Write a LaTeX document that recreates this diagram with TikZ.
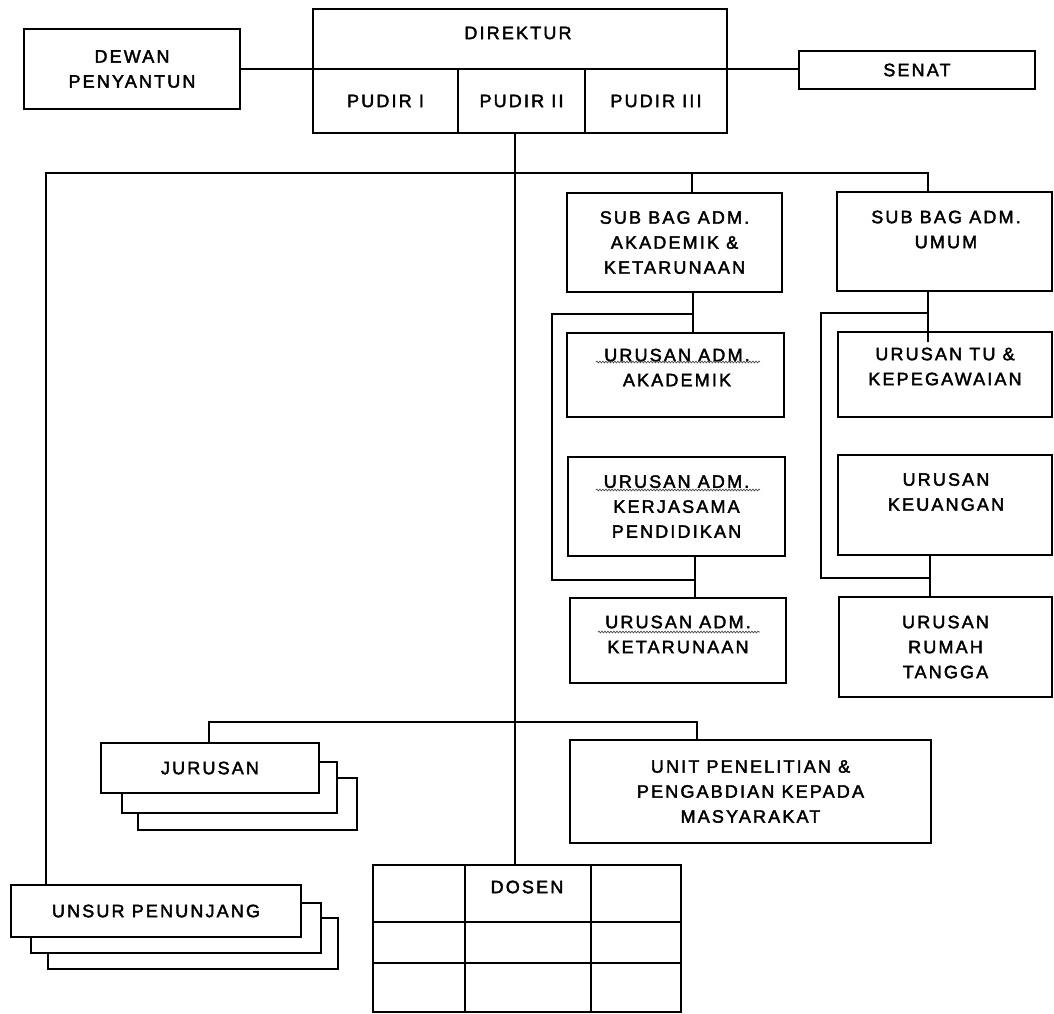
\documentclass[tikz,border=0pt]{standalone}
\usepackage{fontspec}
\setmainfont{Liberation Sans}[LetterSpace=12,FakeBold=2.2]
\usetikzlibrary{decorations.pathmorphing}
\begin{document}
\begin{tikzpicture}[x=1pt,y=-1pt,
  box/.style={draw, line width=1.6pt, inner sep=0pt, outer sep=0pt, fill=white,
              align=center, font=\fontsize{18}{25}\selectfont},
  txt/.style={align=center, inner sep=0pt, font=\fontsize{18}{25}\selectfont},
  conn/.style={line width=1.6pt},
  squig/.style={decorate, decoration={snake, amplitude=0.9pt, segment length=3pt}, line width=0.7pt, black!70}]
\useasboundingbox (0,0) rectangle (1054,1013);

% top level
\node[box, minimum width=216, minimum height=80] (dewan) at (132,69) {DEWAN\\PENYANTUN};
\node[box, minimum width=414, minimum height=60] (dir) at (520,39) {};
\node[txt] (dirt) at (518,33) {DIREKTUR};
\node[box, minimum width=145, minimum height=64] (p1) at (385.5,101) {PUDIR I};
\node[box, minimum width=127, minimum height=64] (p2) at (521.5,101) {PUDIR II};
\node[box, minimum width=142, minimum height=64] (p3) at (656,101) {PUDIR III};
\node[box, minimum width=236, minimum height=38] (senat) at (917,70) {SENAT};

\draw[conn] (dewan.east) -- (dir.south west);
\draw[conn] (dir.south east) -- (dir.south east -| senat.west);

% sub bagian
\node[box, minimum width=215, minimum height=99] (subak) at (674.5,242.5) {SUB BAG ADM.\\AKADEMIK \&\\KETARUNAAN};
\node[box, minimum width=215, minimum height=99] (subum) at (944.5,241.5) {};
\node[txt] (subumt) at (946,229.5) {SUB BAG ADM.\\UMUM};

\node[box, minimum width=217, minimum height=84] (uakad) at (675.5,375) {};
\node[txt] (uakadt) at (677,367.5) {URUSAN ADM.\\AKADEMIK};
\node[box, minimum width=217, minimum height=99] (ukerja) at (676.5,506.5) {URUSAN ADM.\\KERJASAMA\\PENDIDIKAN};
\node[box, minimum width=216, minimum height=85] (uketar) at (678,640.5) {};
\node[txt] (uketart) at (678,634.5) {URUSAN ADM.\\KETARUNAAN};

\node[box, minimum width=214, minimum height=85] (utu) at (945,374.5) {};
\node[txt] (utut) at (945,366.5) {URUSAN TU \&\\KEPEGAWAIAN};
\node[box, minimum width=214, minimum height=100] (ukeu) at (945,505) {};
\node[txt] (ukeut) at (946,492) {URUSAN\\KEUANGAN};
\node[box, minimum width=213, minimum height=100] (urt) at (945.5,647) {URUSAN\\RUMAH\\TANGGA};

% spell-check squiggles
\draw[squig] (596,362) -- (760,362);
\draw[squig] (596,490) -- (760,490);
\draw[squig] (598,632) -- (760,632);

% lower units
\node[box, minimum width=361, minimum height=103] (unit) at (750.5,791.5) {UNIT PENELITIAN \&\\PENGABDIAN KEPADA\\MASYARAKAT};

\node[box, minimum width=219, minimum height=52] (jur3) at (247.5,804) {};
\node[box, minimum width=215, minimum height=51] (jur2) at (229.5,787.5) {};
\node[box, minimum width=218, minimum height=50] (jur) at (210,768) {JURUSAN};

\node[box, minimum width=290, minimum height=51] (uns3) at (193,943.5) {};
\node[box, minimum width=290, minimum height=50] (uns2) at (176,928) {};
\node[box, minimum width=290, minimum height=52] (unsur) at (156,911) {UNSUR PENUNJANG};

\node[box, minimum width=308, minimum height=147] (dosen) at (527,938.5) {};
\draw[conn] (465,865) -- (465,1012);
\draw[conn] (591,865) -- (591,1012);
\draw[conn] (373,922) -- (681,922);
\draw[conn] (373,963) -- (681,963);
\node[txt] (dosent) at (527,887) {DOSEN};

% connectors
\coordinate (t0) at (515,133);
\draw[conn] (t0) -- (t0 |- dosen.north);

\coordinate (bl) at (46,173);
\coordinate (b1) at (692,173);
\coordinate (br) at (928,173);
\draw[conn] (bl |- unsur.north) -- (bl) -- (br) -- (br |- subum.north);
\draw[conn] (b1) -- (b1 |- subak.north);

\coordinate (m0) at (693,314);
\draw[conn] (m0 |- subak.south) -- (m0 |- uakad.north);
\draw[conn] (m0) -- (552,314) -- (552,580) -- (695,580) coordinate (m1);
\draw[conn] (m1 |- ukerja.south) -- (m1 |- uketar.north);

\coordinate (r0) at (928,313);
\draw[conn] (r0 |- subum.south) -- ([yshift=-10pt]r0 |- utu.north);
\draw[conn] (r0) -- (821,313) -- (821,578) -- (930,578) coordinate (r1);
\draw[conn] (r1 |- ukeu.south) -- (r1 |- urt.north);

\coordinate (j0) at (209,722);
\coordinate (u0) at (697,722);
\draw[conn] (j0 |- jur.north) -- (j0) -- (u0) -- (u0 |- unit.north);
\end{tikzpicture}
\end{document}
